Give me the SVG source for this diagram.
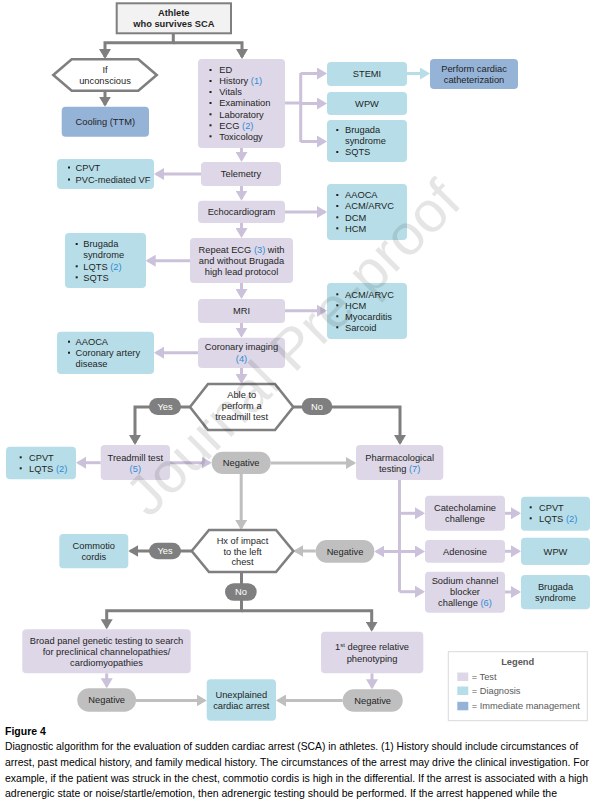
<svg xmlns="http://www.w3.org/2000/svg" width="595" height="800" viewBox="0 0 595 800">
<style>
text{font-family:"Liberation Sans",Arial,sans-serif;font-size:9.3px;fill:#1f1f1f}
.c{text-anchor:middle}
.n{fill:#2f8bd4}
.b{font-weight:bold}
.test{fill:#ddd7e7}
.diag{fill:#b7dee8}
.mgmt{fill:#95b3d7}
.hex{fill:#fff;stroke:#7f7f7f;stroke-width:2.6}
.pd{fill:#7f7f7f}
.pl{fill:#bfbfbf}
.w{fill:#fff}
.bul{fill:#1f1f1f}
.cd{fill:none;stroke:#7f7f7f;stroke-width:3}
.cl{fill:none;stroke:#ccc1da;stroke-width:3}
.cg{fill:none;stroke:#bfbfbf;stroke-width:3}
.cb{fill:none;stroke:#b7dee8;stroke-width:3}
.lg{fill:#595959}
.cap{font-family:"Liberation Sans",Arial,sans-serif;font-size:10.5px;fill:#000}
.wm{font-size:57px;fill:#000;fill-opacity:0.1;text-anchor:middle}
</style>
<defs>
<marker id="md" viewBox="0 0 10 12" refX="8" refY="6" markerWidth="10" markerHeight="12" markerUnits="userSpaceOnUse" orient="auto"><path d="M0,0 L10,6 L0,12 z" fill="#7f7f7f"/></marker>
<marker id="ml" viewBox="0 0 10 12" refX="8" refY="6" markerWidth="10" markerHeight="12" markerUnits="userSpaceOnUse" orient="auto"><path d="M0,0 L10,6 L0,12 z" fill="#ccc1da"/></marker>
<marker id="mg" viewBox="0 0 10 12" refX="8" refY="6" markerWidth="10" markerHeight="12" markerUnits="userSpaceOnUse" orient="auto"><path d="M0,0 L10,6 L0,12 z" fill="#bfbfbf"/></marker>
<marker id="mb" viewBox="0 0 10 12" refX="8" refY="6" markerWidth="10" markerHeight="12" markerUnits="userSpaceOnUse" orient="auto"><path d="M0,0 L10,6 L0,12 z" fill="#b7dee8"/></marker>
</defs>

<g id="connectors">
<path class="cd" d="M173.3,33 V42.7 H105 V57" marker-end="url(#md)"/>
<path class="cd" d="M173.3,42.7 H242 V57" marker-end="url(#md)"/>
<path class="cd" d="M105,90.7 V104.7" marker-end="url(#md)"/>
<path class="cd" d="M190,407 H135 V443" marker-end="url(#md)"/>
<path class="cd" d="M293.3,407 H400 V443" marker-end="url(#md)"/>
<path class="cd" d="M191.7,551 H130.3" marker-end="url(#md)"/>
<path class="cd" d="M241.5,572 V610.7 H106.7 V627.3" marker-end="url(#md)"/>
<path class="cd" d="M241.5,610.7 H371.7 V629.7" marker-end="url(#md)"/>

<path class="cl" d="M285,103 H300.7"/>
<path class="cl" d="M300.7,73 V142"/>
<path class="cl" d="M300.7,73.5 H325" marker-end="url(#ml)"/>
<path class="cl" d="M300.7,103.5 H325" marker-end="url(#ml)"/>
<path class="cl" d="M300.7,141.5 H325" marker-end="url(#ml)"/>
<path class="cl" d="M241.5,148 V160" marker-end="url(#ml)"/>
<path class="cl" d="M201,174 H156" marker-end="url(#ml)"/>
<path class="cl" d="M241.5,186 V198.7" marker-end="url(#ml)"/>
<path class="cl" d="M285,212 H325" marker-end="url(#ml)"/>
<path class="cl" d="M241.5,223 V236" marker-end="url(#ml)"/>
<path class="cl" d="M190,260.7 H147.7" marker-end="url(#ml)"/>
<path class="cl" d="M241.5,283 V297" marker-end="url(#ml)"/>
<path class="cl" d="M285,310.7 H325" marker-end="url(#ml)"/>
<path class="cl" d="M241.5,322.7 V335.7" marker-end="url(#ml)"/>
<path class="cl" d="M198,352.7 H156" marker-end="url(#ml)"/>
<path class="cl" d="M241.5,368 V382" marker-end="url(#ml)"/>
<path class="cl" d="M100.7,462.7 H78" marker-end="url(#ml)"/>
<path class="cl" d="M170,462.7 H209.7" marker-end="url(#ml)"/>
<path class="cl" d="M399.5,480 V591.7"/>
<path class="cl" d="M399.5,513.3 H423" marker-end="url(#ml)"/>
<path class="cl" d="M399.5,551.5 H423" marker-end="url(#ml)"/>
<path class="cl" d="M399.5,591.7 H423" marker-end="url(#ml)"/>
<path class="cl" d="M399.5,551.5 H376.3" marker-end="url(#ml)"/>
<path class="cl" d="M505,513.3 H519" marker-end="url(#ml)"/>
<path class="cl" d="M505,551.3 H519" marker-end="url(#ml)"/>
<path class="cl" d="M505,592 H519" marker-end="url(#ml)"/>
<path class="cl" d="M106.7,673.3 V686.3" marker-end="url(#ml)"/>
<path class="cl" d="M372,673.3 V687.3" marker-end="url(#ml)"/>

<path class="cg" d="M270.7,463 H354" marker-end="url(#mg)"/>
<path class="cg" d="M241.2,474 V528" marker-end="url(#mg)"/>
<path class="cg" d="M315.7,551 H295.3" marker-end="url(#mg)"/>
<path class="cg" d="M136,700.5 H204.7" marker-end="url(#mg)"/>
<path class="cg" d="M342.7,700.5 H278" marker-end="url(#mg)"/>

<path class="cb" d="M407,73.5 H428" marker-end="url(#mb)"/>
</g>

<g id="start">
<rect x="116.7" y="3.3" width="114.3" height="30" fill="#f2f2f2" stroke="#7f7f7f" stroke-width="2"/>
<text class="c b" x="173.8" y="16">Athlete</text>
<text class="c b" x="173.8" y="26.6">who survives SCA</text>
</g>

<g id="unconscious">
<polygon class="hex" points="53.3,75 71.7,59.3 138.3,59.3 156.7,75 138.3,90.7 71.7,90.7"/>
<text class="c" x="105" y="73.3">If</text>
<text class="c" x="105" y="83.6">unconscious</text>
</g>

<g id="cooling">
<rect class="mgmt" x="61.7" y="106.7" width="87.3" height="30" rx="4"/>
<text class="c" x="105.3" y="125">Cooling (TTM)</text>
</g>

<g id="ed">
<rect class="test" x="198" y="59" width="87" height="89" rx="4"/>
<rect class="bul" x="209.5" y="69" width="2" height="2"/>
<rect class="bul" x="209.5" y="80" width="2" height="2"/>
<rect class="bul" x="209.5" y="91" width="2" height="2"/>
<rect class="bul" x="209.5" y="102" width="2" height="2"/>
<rect class="bul" x="209.5" y="113.3" width="2" height="2"/>
<rect class="bul" x="209.5" y="124.3" width="2" height="2"/>
<rect class="bul" x="209.5" y="135.3" width="2" height="2"/>
<text x="219.3" y="73.3">ED</text>
<text x="219.3" y="84.3">History <tspan class="n">(1)</tspan></text>
<text x="219.3" y="95.3">Vitals</text>
<text x="219.3" y="106.3">Examination</text>
<text x="219.3" y="117.6">Laboratory</text>
<text x="219.3" y="128.6">ECG <tspan class="n">(2)</tspan></text>
<text x="219.3" y="139.6">Toxicology</text>
</g>

<g id="stemi">
<rect class="diag" x="327" y="62" width="80" height="24" rx="4"/>
<text class="c" x="367" y="76.8">STEMI</text>
</g>

<g id="cath">
<rect class="mgmt" x="430" y="59" width="88" height="30" rx="4"/>
<text class="c" x="474" y="71.6">Perform cardiac</text>
<text class="c" x="474" y="82.6">catheterization</text>
</g>

<g id="wpw1">
<rect class="diag" x="327" y="92" width="80" height="23" rx="4"/>
<text class="c" x="367" y="106.8">WPW</text>
</g>

<g id="brugada1">
<rect class="diag" x="327" y="120" width="80" height="42" rx="4"/>
<rect class="bul" x="336.3" y="129" width="2" height="2"/>
<rect class="bul" x="336.3" y="151" width="2" height="2"/>
<text x="345" y="133.3">Brugada</text>
<text x="345" y="144.3">syndrome</text>
<text x="345" y="155.3">SQTS</text>
</g>

<g id="telemetry">
<rect class="test" x="201" y="162" width="80" height="24" rx="4"/>
<text class="c" x="241" y="177.3">Telemetry</text>
</g>

<g id="cpvt1">
<rect class="diag" x="57" y="159" width="97" height="30" rx="4"/>
<rect class="bul" x="68" y="166.5" width="2" height="2"/>
<rect class="bul" x="68" y="178.5" width="2" height="2"/>
<text x="75.5" y="170.8">CPVT</text>
<text x="75.5" y="182.8">PVC-mediated VF</text>
</g>

<g id="echo">
<rect class="test" x="198" y="200.7" width="87" height="22.3" rx="4"/>
<text class="c" x="241.5" y="215.3">Echocardiogram</text>
</g>

<g id="structural1">
<rect class="diag" x="327" y="184" width="80" height="56" rx="4"/>
<rect class="bul" x="336.3" y="194" width="2" height="2"/>
<rect class="bul" x="336.3" y="205" width="2" height="2"/>
<rect class="bul" x="336.3" y="216.3" width="2" height="2"/>
<rect class="bul" x="336.3" y="227.3" width="2" height="2"/>
<text x="345" y="198.3">AAOCA</text>
<text x="345" y="209.3">ACM/ARVC</text>
<text x="345" y="220.6">DCM</text>
<text x="345" y="231.6">HCM</text>
</g>

<g id="repeatecg">
<rect class="test" x="190" y="238" width="103" height="45" rx="4"/>
<text class="c" x="241.5" y="253.3">Repeat ECG <tspan class="n">(3)</tspan> with</text>
<text class="c" x="241.5" y="264.3">and without Brugada</text>
<text class="c" x="241.5" y="275.3">high lead protocol</text>
</g>

<g id="brugada2">
<rect class="diag" x="65" y="233" width="81" height="55" rx="4"/>
<rect class="bul" x="75.7" y="243" width="2" height="2"/>
<rect class="bul" x="75.7" y="265.3" width="2" height="2"/>
<rect class="bul" x="75.7" y="276.3" width="2" height="2"/>
<text x="83.3" y="247.3">Brugada</text>
<text x="83.3" y="258.3">syndrome</text>
<text x="83.3" y="269.6">LQTS <tspan class="n">(2)</tspan></text>
<text x="83.3" y="280.6">SQTS</text>
</g>

<g id="mri">
<rect class="test" x="198" y="299" width="87" height="24" rx="4"/>
<text class="c" x="241.5" y="314.3">MRI</text>
</g>

<g id="structural2">
<rect class="diag" x="327" y="283" width="80" height="56" rx="4"/>
<rect class="bul" x="336.3" y="293.3" width="2" height="2"/>
<rect class="bul" x="336.3" y="304.3" width="2" height="2"/>
<rect class="bul" x="336.3" y="315.3" width="2" height="2"/>
<rect class="bul" x="336.3" y="326.3" width="2" height="2"/>
<text x="345" y="297.6">ACM/ARVC</text>
<text x="345" y="308.6">HCM</text>
<text x="345" y="319.6">Myocarditis</text>
<text x="345" y="330.6">Sarcoid</text>
</g>

<g id="coronary">
<rect class="test" x="198" y="337.7" width="87" height="30.3" rx="4"/>
<text class="c" x="241.5" y="350">Coronary imaging</text>
<text class="c n" x="241.5" y="361.5">(4)</text>
</g>

<g id="aaoca">
<rect class="diag" x="57" y="331.7" width="97" height="42.3" rx="4"/>
<rect class="bul" x="68" y="340.7" width="2" height="2"/>
<rect class="bul" x="68" y="351.7" width="2" height="2"/>
<text x="75.5" y="345">AAOCA</text>
<text x="75.5" y="356">Coronary artery</text>
<text x="75.5" y="367">disease</text>
</g>

<g id="treadmill-q">
<polygon class="hex" points="190,407 208,384 275,384 293.3,407 275,430 208,430"/>
<text class="c" x="241.7" y="398.3">Able to</text>
<text class="c" x="241.7" y="409.3">perform a</text>
<text class="c" x="241.7" y="420">treadmill test</text>
</g>

<g id="yes1">
<rect class="pd" x="149" y="398" width="32" height="17" rx="8.5"/>
<text class="c w" x="165" y="409.8">Yes</text>
</g>

<g id="no1">
<rect class="pd" x="301.7" y="398" width="30.6" height="17" rx="8.5"/>
<text class="c w" x="317" y="409.8">No</text>
</g>

<g id="treadmill">
<rect class="test" x="100.7" y="445" width="69.3" height="35" rx="4"/>
<text class="c" x="135.3" y="460.6">Treadmill test</text>
<text class="c n" x="135.3" y="471.6">(5)</text>
</g>

<g id="cpvt2">
<rect class="diag" x="6" y="446.7" width="70" height="32.6" rx="4"/>
<rect class="bul" x="19.7" y="456.3" width="2" height="2"/>
<rect class="bul" x="19.7" y="467.3" width="2" height="2"/>
<text x="29" y="460.6">CPVT</text>
<text x="29" y="471.6">LQTS <tspan class="n">(2)</tspan></text>
</g>

<g id="negative1">
<rect class="pl" x="211.7" y="451.7" width="59" height="22.3" rx="11"/>
<text class="c" x="241.2" y="466.2">Negative</text>
</g>

<g id="pharm">
<rect class="test" x="356" y="445" width="87.3" height="35" rx="4"/>
<text class="c" x="399.7" y="460.6">Pharmacological</text>
<text class="c" x="399.7" y="471.6">testing <tspan class="n">(7)</tspan></text>
</g>

<g id="catecholamine">
<rect class="test" x="425" y="495.7" width="80" height="35" rx="4"/>
<text class="c" x="465" y="510.6">Catecholamine</text>
<text class="c" x="465" y="521.6">challenge</text>
</g>

<g id="adenosine">
<rect class="test" x="425" y="540" width="80" height="22.7" rx="4"/>
<text class="c" x="465" y="554.6">Adenosine</text>
</g>

<g id="sodium">
<rect class="test" x="425" y="571.7" width="80" height="41" rx="4"/>
<text class="c" x="465" y="584.3">Sodium channel</text>
<text class="c" x="465" y="595.3">blocker</text>
<text class="c" x="465" y="606">challenge <tspan class="n">(6)</tspan></text>
</g>

<g id="cpvt3">
<rect class="diag" x="521" y="496.7" width="69" height="34" rx="4"/>
<rect class="bul" x="529.7" y="506.3" width="2" height="2"/>
<rect class="bul" x="529.7" y="517.3" width="2" height="2"/>
<text x="539" y="510.6">CPVT</text>
<text x="539" y="521.6">LQTS <tspan class="n">(2)</tspan></text>
</g>

<g id="wpw2">
<rect class="diag" x="521" y="537.7" width="69" height="27.3" rx="4"/>
<text class="c" x="555.5" y="554.6">WPW</text>
</g>

<g id="brugada3">
<rect class="diag" x="521" y="575" width="69" height="34.3" rx="4"/>
<text class="c" x="555.5" y="590">Brugada</text>
<text class="c" x="555.5" y="601">syndrome</text>
</g>

<g id="negative2">
<rect class="pl" x="315.7" y="540" width="58.6" height="22.7" rx="11"/>
<text class="c" x="345" y="554.6">Negative</text>
</g>

<g id="impact-q">
<polygon class="hex" points="191.7,551 209,530 276,530 293.3,551 276,572 209,572"/>
<text class="c" x="242.5" y="544">Hx of impact</text>
<text class="c" x="242.5" y="554.6">to the left</text>
<text class="c" x="242.5" y="564.6">chest</text>
</g>

<g id="yes2">
<rect class="pd" x="149" y="542.7" width="32" height="16.6" rx="8.3"/>
<text class="c w" x="165" y="554.3">Yes</text>
</g>

<g id="commotio">
<rect class="diag" x="59.3" y="534" width="69" height="34.3" rx="4"/>
<text class="c" x="93.8" y="549">Commotio</text>
<text class="c" x="93.8" y="560">cordis</text>
</g>

<g id="no2">
<rect class="pd" x="225" y="583.3" width="31.7" height="17.4" rx="8.7"/>
<text class="c w" x="241" y="595.3">No</text>
</g>

<g id="genetic">
<rect class="test" x="22.3" y="629.3" width="168.4" height="44" rx="4"/>
<text class="c" x="106.5" y="644">Broad panel genetic testing to search</text>
<text class="c" x="106.5" y="655">for preclinical channelopathies/</text>
<text class="c" x="106.5" y="665.6">cardiomyopathies</text>
</g>

<g id="negative3">
<rect class="pl" x="77.3" y="688.3" width="58.7" height="23.4" rx="11.5"/>
<text class="c" x="106.7" y="703.3">Negative</text>
</g>

<g id="unexplained">
<rect class="diag" x="206.7" y="679.3" width="69.3" height="41.4" rx="4"/>
<text class="c" x="241.3" y="698.3">Unexplained</text>
<text class="c" x="241.3" y="709.3">cardiac arrest</text>
</g>

<g id="relatives">
<rect class="test" x="321" y="631.7" width="102.3" height="41.6" rx="4"/>
<text class="c" x="372" y="650">1<tspan font-size="6" dy="-3.5">st</tspan><tspan dy="3.5"> degree relative</tspan></text>
<text class="c" x="372" y="661.6">phenotyping</text>
</g>

<g id="negative4">
<rect class="pl" x="342.7" y="689.3" width="60" height="22.4" rx="11"/>
<text class="c" x="372.7" y="703.8">Negative</text>
</g>

<g id="legend">
<rect x="448.3" y="651.7" width="139" height="69" fill="#fff" stroke="#d9d9d9" stroke-width="1"/>
<text class="c b lg" x="517.7" y="665">Legend</text>
<rect class="test" x="457.3" y="672.5" width="11" height="8.5"/>
<rect class="diag" x="457.3" y="686.5" width="11" height="8.5"/>
<rect class="mgmt" x="457.3" y="701.8" width="11" height="8.5"/>
<text class="lg" x="471.7" y="680">= Test</text>
<text class="lg" x="471.7" y="694">= Diagnosis</text>
<text class="lg" x="471.7" y="709.3">= Immediate management</text>
</g>

<g id="caption">
<text class="cap b" x="5" y="735">Figure 4</text>
<text class="cap" x="5" y="750" textLength="573" lengthAdjust="spacingAndGlyphs">Diagnostic algorithm for the evaluation of sudden cardiac arrest (SCA) in athletes. (1) History should include circumstances of</text>
<text class="cap" x="5" y="766" textLength="584" lengthAdjust="spacingAndGlyphs">arrest, past medical history, and family medical history. The circumstances of the arrest may drive the clinical investigation. For</text>
<text class="cap" x="5" y="781.5" textLength="583" lengthAdjust="spacingAndGlyphs">example, if the patient was struck in the chest, commotio cordis is high in the differential. If the arrest is associated with a high</text>
<text class="cap" x="5" y="797" textLength="552" lengthAdjust="spacingAndGlyphs">adrenergic state or noise/startle/emotion, then adrenergic testing should be performed. If the arrest happened while the</text>
</g>

<text class="wm" x="306.5" y="361.7" transform="rotate(-45 306.5 361.7)" textLength="445" lengthAdjust="spacingAndGlyphs">Journal Pre-proof</text>
</svg>
